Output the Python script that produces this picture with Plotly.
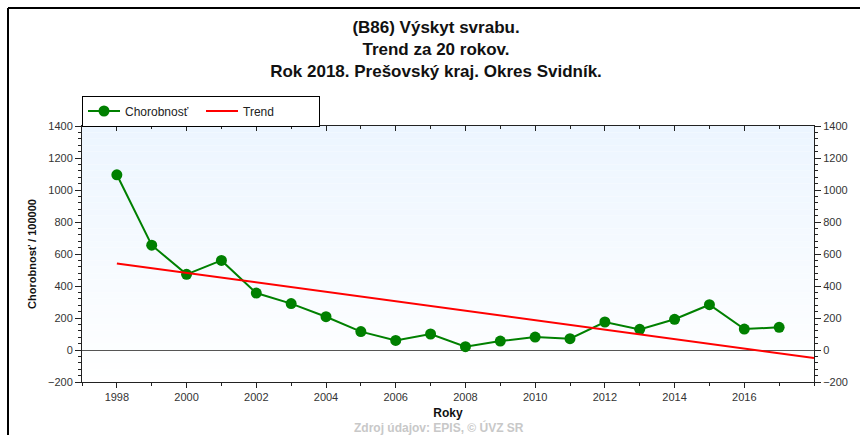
import plotly.graph_objects as go

# values
years = list(range(1998, 2018))
chorobnost = [1095, 655, 473, 560, 356, 290, 208, 115, 60, 100,
              21, 56, 81, 71, 175, 129, 192, 283, 131, 142]
trend_years = [1998, 2018]
trend_values = [541, -50]

title_lines = [
    "(B86) Výskyt svrabu.",
    "Trend za 20 rokov.",
    "Rok 2018. Prešovský kraj. Okres Svidník.",
]

W, H = 860, 435
L, R, T, B = 82, 46, 126, 53
FONT = "Arial, Liberation Sans, sans-serif"


def px_x(px):
    return (px - L) / (W - L - R)


def px_y(py):
    return (H - B - py) / (H - T - B)


fig = go.Figure()
fig.add_trace(go.Scatter(
    x=years, y=chorobnost,
    mode="lines+markers",
    name="Chorobnosť",
    line=dict(color="#008000", width=2),
    marker=dict(color="#008000", size=11),
))
fig.add_trace(go.Scatter(
    x=trend_years, y=trend_values,
    mode="lines",
    name="Trend",
    line=dict(color="#ff0000", width=2),
))
# right axis / top axis carriers
fig.add_trace(go.Scatter(x=[None], y=[None], xaxis="x2", yaxis="y2",
                         showlegend=False, hoverinfo="skip"))

# vertical gradient background of the plot area
shapes = []
n = 40
for i in range(n):
    f = (i + 0.5) / n
    r = int(round(255 - (255 - 236) * f))
    g = int(round(255 - (255 - 245) * f))
    shapes.append(dict(
        type="rect", xref="paper", yref="paper",
        x0=0, x1=1, y0=i / n, y1=(i + 1) / n,
        fillcolor=f"rgb({r},{g},255)", line=dict(width=0), layer="below",
    ))
# outer frame (top and left edges)
shapes.append(dict(type="line", xref="paper", yref="paper",
                   x0=px_x(8), x1=px_x(860), y0=px_y(8), y1=px_y(8),
                   line=dict(color="black", width=2)))
shapes.append(dict(type="line", xref="paper", yref="paper",
                   x0=px_x(8), x1=px_x(8), y0=px_y(8), y1=px_y(440),
                   line=dict(color="black", width=2)))

axis_common = dict(
    showgrid=False, showline=True, linecolor="#222", linewidth=1,
    tickcolor="#222", tickfont=dict(family=FONT, size=11, color="#333"),
    automargin=False,
)

fig.update_layout(
    width=W, height=H,
    margin=dict(l=L, r=R, t=T, b=B, autoexpand=False),
    paper_bgcolor="white",
    plot_bgcolor="rgba(0,0,0,0)",
    font=dict(family=FONT, color="#222"),
    title=dict(
        text="<b>" + "<br>".join(title_lines) + "</b>",
        x=436 / W, xref="container", xanchor="center",
        y=1 - 33 / H, yref="container", yanchor="top",
        font=dict(family=FONT, size=17, color="#111"),
        automargin=False,
    ),
    showlegend=True,
    legend=dict(
        orientation="h", x=0, xanchor="left",
        y=px_y(111), yanchor="middle",
        bgcolor="white", bordercolor="black", borderwidth=1,
        font=dict(family=FONT, size=12, color="#222"),
        entrywidth=71, itemwidth=32,
        tracegroupgap=0,
    ),
    xaxis=dict(
        range=[1997, 2018], tickmode="array",
        tickvals=list(range(1998, 2017, 2)),
        ticks="outside", ticklen=5,
        minor=dict(dtick=1, tick0=1998, ticks="outside", ticklen=3, tickcolor="#222"),
        zeroline=False,
        title=dict(text="<b>Roky</b>", font=dict(family=FONT, size=12, color="#111"), standoff=6),
        **axis_common,
    ),
    xaxis2=dict(
        overlaying="x", side="top", matches="x",
        range=[1997, 2018], tickmode="array",
        tickvals=list(range(1998, 2017, 2)), showticklabels=False,
        ticks="inside", ticklen=5,
        minor=dict(dtick=1, tick0=1998, ticks="inside", ticklen=3, tickcolor="#222"),
        zeroline=False,
        **axis_common,
    ),
    yaxis=dict(
        range=[-200, 1400], dtick=200, tick0=0,
        ticks="outside", ticklen=6,
        minor=dict(dtick=40, ticks="outside", ticklen=3, tickcolor="#222"),
        zeroline=True, zerolinecolor="#555", zerolinewidth=1,
        title=dict(text="<b>Chorobnosť / 100000</b>",
                   font=dict(family=FONT, size=11, color="#111"), standoff=9),
        **axis_common,
    ),
    yaxis2=dict(
        overlaying="y", side="right", matches="y",
        range=[-200, 1400], dtick=200, tick0=0,
        ticks="outside", ticklen=6,
        minor=dict(dtick=40, ticks="outside", ticklen=3, tickcolor="#222"),
        zeroline=False,
        **axis_common,
    ),
    shapes=shapes,
    annotations=[dict(
        text="<b>Zdroj údajov: EPIS, © ÚVZ SR</b>",
        xref="paper", yref="paper", x=px_x(439), y=px_y(427),
        xanchor="center", yanchor="middle", showarrow=False,
        font=dict(family=FONT, size=12, color="#c8c8c8"),
    )],
)

# drop the browser's default 8px body margin so the figure sits at (0, 0)
fig.write_html("out.html", config={"displayModeBar": False},
               post_script="document.body.style.margin='0';")
